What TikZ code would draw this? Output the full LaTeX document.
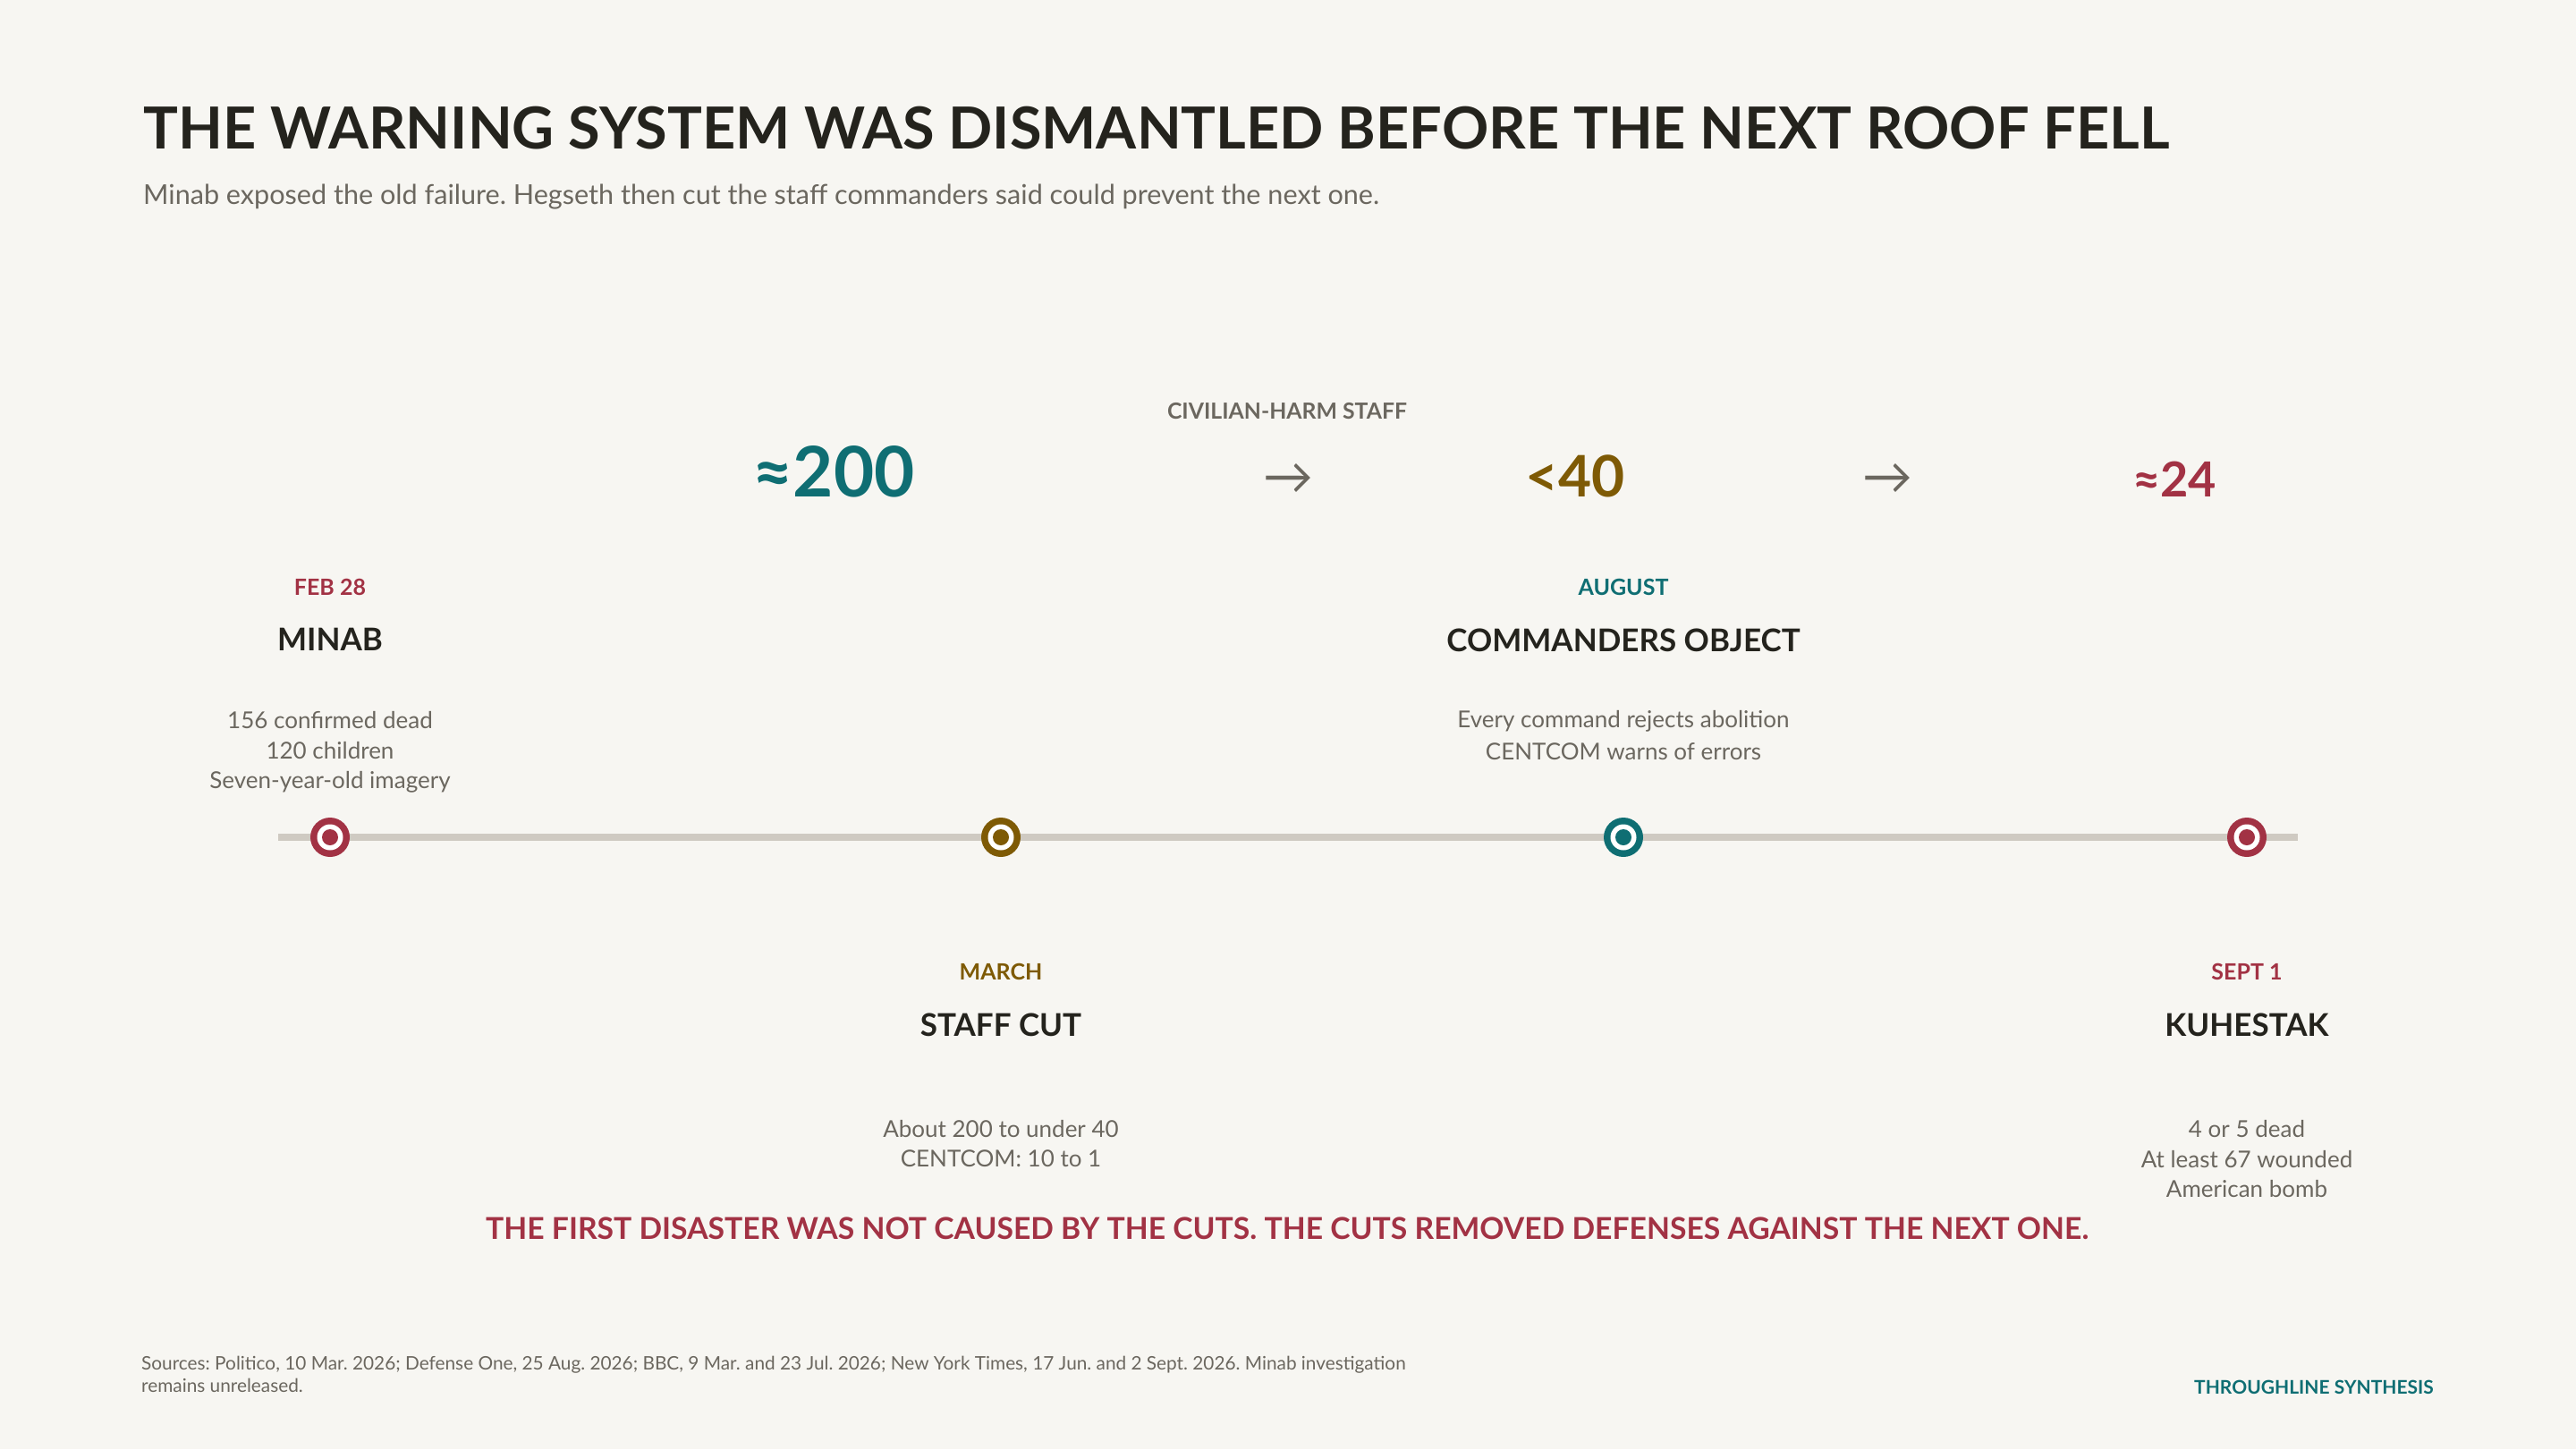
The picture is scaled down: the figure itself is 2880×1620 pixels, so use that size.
\documentclass[tikz,border=0pt]{standalone}
\usepackage{fontspec}
\setmainfont{Lato}
\definecolor{bg}{HTML}{F7F6F2}
\definecolor{ink}{HTML}{24231D}
\definecolor{muted}{HTML}{6B675F}
\definecolor{teal}{HTML}{0F6E73}
\definecolor{gold}{HTML}{7E5A05}
\definecolor{crim}{HTML}{A23244}
\definecolor{rule}{HTML}{CFCAC2}
\newcommand\fsz[1]{\fontsize{#1}{#1}\selectfont}
\frenchspacing
\begin{document}
\frenchspacing
\begin{tikzpicture}[x=1pt,y=-1pt,
  txt/.style={inner sep=0pt, anchor=base},
  datelab/.style={txt, font=\fsz{25}\bfseries, text=#1},
  evtitle/.style={txt, font=\fsz{35}\bfseries, text=ink},
  body/.style={txt, font=\fsz{26}, text=muted},
  bignum/.style={txt, font=\fsz{#1}\bfseries},
  flowarrow/.style={inner sep=0pt, font=\fsz{56}, text=muted},
  marker/.style={circle, inner sep=0pt, minimum size=44pt, fill=#1,
    path picture={\fill[white] (path picture bounding box.center) circle (14.5pt);
                  \fill[#1] (path picture bounding box.center) circle (9pt);}}
]
\fill[bg] (0,0) rectangle (2880,1620);
\useasboundingbox (0,0) rectangle (2880,1620);

% header
\node[txt, anchor=base west, font=\fsz{64.8}\bfseries, text=ink] (title) at (160,166)
  {THE WARNING SYSTEM WAS DISMANTLED BEFORE THE NEXT ROOF FELL};
\node[txt, anchor=base west, font=\fsz{30.6}, text=muted] (subtitle) at (160,228)
  {Minab exposed the old failure. Hegseth then cut the staff commanders said could prevent the next one.};

% staff numbers
\node[txt, font=\fsz{24.8}\bfseries, text=muted] (stafflab) at (1439,468) {CIVILIAN-HARM STAFF};
\node[bignum=78, text=teal] (n200) at (932,555) {≈200};
\node[flowarrow] (ar1) at (1440,535) {→};
\node[bignum=64, text=gold] (n40) at (1761,555) {<40};
\node[flowarrow] (ar2) at (2110,535) {→};
\node[bignum=54, text=crim] (n24) at (2431,555) {≈24};

% timeline
\coordinate (tlA) at (311,936);
\coordinate (tlB) at (2569,936);
\draw[rule, line width=8pt] (tlA) -- (tlB);
\node[marker=crim] (m1) at (369,936) {};
\node[marker=gold] (m2) at (1119,936) {};
\node[marker=teal] (m3) at (1815,936) {};
\node[marker=crim] (m4) at (2512,936) {};

% event 1
\node[datelab=crim] (d1) at (369,665) {FEB 28};
\node[evtitle] (t1) at (369,727) {MINAB};
\node[body] (b1a) at (369,814) {156 confirmed dead};
\node[body] (b1b) at (369,848) {120 children};
\node[body] (b1c) at (369,881) {Seven-year-old imagery};

% event 3
\node[datelab=teal] (d3) at (1815,665) {AUGUST};
\node[evtitle] (t3) at (1815,728) {COMMANDERS OBJECT};
\node[body] (b3a) at (1815,813) {Every command rejects abolition};
\node[body] (b3b) at (1815,849) {CENTCOM warns of errors};

% event 2
\node[datelab=gold] (d2) at (1119,1095) {MARCH};
\node[evtitle] (t2) at (1119,1158) {STAFF CUT};
\node[body] (b2a) at (1119,1271) {About 200 to under 40};
\node[body] (b2b) at (1119,1304) {CENTCOM: 10 to 1};

% event 4
\node[datelab=crim] (d4) at (2512,1095) {SEPT 1};
\node[evtitle] (t4) at (2512,1158) {KUHESTAK};
\node[body] (b4a) at (2512,1271) {4 or 5 dead};
\node[body] (b4b) at (2512,1305) {At least 67 wounded};
\node[body] (b4c) at (2512,1338) {American bomb};

% conclusion
\node[txt, font=\fsz{33.7}\bfseries, text=crim] (concl) at (1439,1385)
  {THE FIRST DISASTER WAS NOT CAUSED BY THE CUTS. THE CUTS REMOVED DEFENSES AGAINST THE NEXT ONE.};

% footer
\node[txt, anchor=base west, font=\fsz{20.8}, text=muted] (src1) at (158,1531)
  {Sources: Politico, 10 Mar. 2026; Defense One, 25 Aug. 2026; BBC, 9 Mar. and 23 Jul. 2026; New York Times, 17 Jun. and 2 Sept. 2026. Minab investigation};
\node[txt, anchor=base west, font=\fsz{20.8}, text=muted] (src2) at (158,1556)
  {remains unreleased.};
\node[txt, anchor=base east, font=\fsz{21}\bfseries, text=teal] (brand) at (2721,1558)
  {THROUGHLINE SYNTHESIS};
\end{tikzpicture}
\end{document}
